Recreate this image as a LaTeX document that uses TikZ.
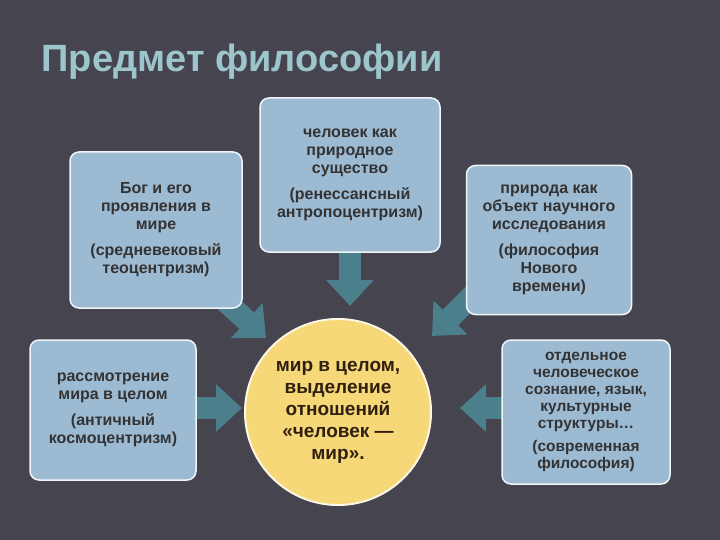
\documentclass[tikz,border=0pt]{standalone}
\usepackage{fontspec}
\setmainfont{Liberation Sans}
\usetikzlibrary{arrows.meta}
\definecolor{bg}{HTML}{45444F}
\definecolor{boxc}{HTML}{9DBAD3}
\definecolor{circ}{HTML}{F7D878}
\definecolor{arr}{HTML}{4B7F8B}
\definecolor{ttl}{HTML}{9CC6CB}
\begin{document}
\begin{tikzpicture}[x=1pt,y=-1pt,
  box/.style={draw=white!85!boxc,line width=1.5pt,fill=boxc,rounded corners=9pt,align=center,font=\bfseries\fontsize{16}{18}\selectfont,text=black!80,inner sep=0pt},
  blk/.style={draw=arr,line width=22pt,-{Triangle[width=46pt,length=26pt,fill=arr]}}]
\useasboundingbox (0,0) rectangle (720,540);
\fill[bg] (0,0) rectangle (720,540);
\node[anchor=west,text=ttl,font=\bfseries\fontsize{38}{42}\selectfont] (title) at (38,62) {Предмет философии};
\coordinate (a1s) at (350,240); \coordinate (a1e) at (350,306);
\coordinate (a2s) at (215,292); \coordinate (a2e) at (266,338);
\coordinate (a3s) at (484,284); \coordinate (a3e) at (432,336);
\coordinate (a4s) at (190,408); \coordinate (a4e) at (242,408);
\coordinate (a5s) at (510,408); \coordinate (a5e) at (460,408);
\foreach \s/\e in {a1s/a1e,a2s/a2e,a3s/a3e,a4s/a4e,a5s/a5e} \draw[blk] (\s) -- (\e);
\node[box,minimum width=180pt,minimum height=154pt] (t) at (350,175) {человек как\\природное\\существо\\[8pt](ренессансный\\антропоцентризм)};
\node[box,minimum width=172pt,minimum height=156pt] (lt) at (156,230) {Бог и его\\проявления в\\мире\\[8pt](средневековый\\теоцентризм)};
\node[box,minimum width=165pt,minimum height=149pt] (rt) at (549,240) {природа как\\объект научного\\исследования\\[8pt](философия\\Нового\\времени)};
\node[box,minimum width=166pt,minimum height=140pt] (lb) at (113,410) {рассмотрение\\мира в целом\\[8pt](античный\\космоцентризм)};
\node[box,minimum width=168pt,minimum height=144pt,font=\bfseries\fontsize{15.5}{17}\selectfont] (rb) at (586,412) {отдельное\\человеческое\\сознание, язык,\\культурные\\структуры…\\[6pt](современная\\философия)};
\node[circle,draw=white!80!circ,line width=2pt,fill=circ,minimum size=186pt,align=center,text=black!75!brown,font=\bfseries\fontsize{19}{22}\selectfont] (c) at (338,412) {мир в целом,\\выделение\\отношений\\«человек —\\мир».};
\end{tikzpicture}
\end{document}
